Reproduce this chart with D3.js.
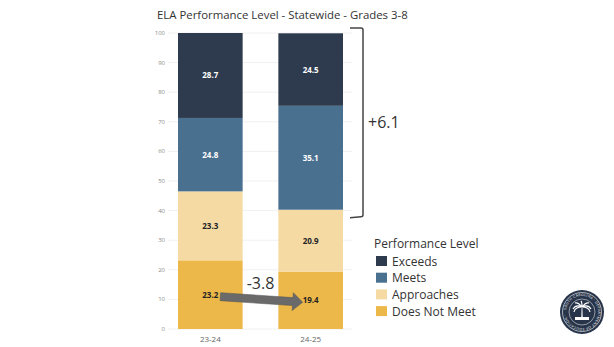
<!DOCTYPE html>
<html><head><meta charset="utf-8">
<script src="https://cdn.jsdelivr.net/npm/d3@7"></script>
<style>body{margin:0;background:#fff}svg{display:block}</style>
</head><body><svg id="c" width="614" height="347"></svg>
<script>
const years = ["23-24", "24-25"];
const levels = ["Does Not Meet", "Approaches", "Meets", "Exceeds"];
const doesNotMeet = [23.2, 19.4];
const approaches = [23.3, 20.9];
const meets = [24.8, 35.1];
const exceeds = [28.7, 24.5];
const yTicks = [0,10,20,30,40,50,60,70,80,90,100];
const colors = {"Does Not Meet":"#EDB84A","Approaches":"#F5DAA4","Meets":"#4A7090","Exceeds":"#2E3B4E"};
const labelColors = {"Does Not Meet":"#222","Approaches":"#222","Meets":"#fff","Exceeds":"#fff"};
const seriesVals = {"Does Not Meet":doesNotMeet,"Approaches":approaches,"Meets":meets,"Exceeds":exceeds};
const changeLow = "-3.8", changeHigh = "+6.1";
const title = "ELA Performance Level - Statewide - Grades 3-8";

const svg = d3.select("#c");
const font = "'Open Sans', 'Noto Sans', sans-serif";
const y = d3.scaleLinear().domain([0,100]).range([329,33]);
const x = d3.scaleBand().domain(years).range([178,343]).paddingInner(0.356).paddingOuter(0);

// grid
svg.append("g").selectAll("line").data(yTicks).join("line")
  .attr("x1",168).attr("x2",352).attr("y1",d=>y(d)).attr("y2",d=>y(d))
  .attr("stroke","#f0f0f0").attr("stroke-width",1);
// y axis labels
svg.append("g").selectAll("text").data(yTicks).join("text")
  .attr("x",165).attr("y",d=>y(d)+2).attr("text-anchor","end")
  .attr("font-family",font).attr("font-size",6).attr("fill","#8a8a8a").text(d=>d);

// stacked data
const rows = years.map((yr,i)=>{const r={year:yr}; levels.forEach(l=>r[l]=seriesVals[l][i]); return r;});
const stack = d3.stack().keys(levels)(rows);
const g = svg.append("g");
stack.forEach(s=>{
  g.selectAll(null).data(s).join("rect")
    .attr("x",d=>x(d.data.year)).attr("width",x.bandwidth())
    .attr("y",d=>y(d[1])).attr("height",d=>y(d[0])-y(d[1]))
    .attr("fill",colors[s.key]);
  g.selectAll(null).data(s).join("text")
    .attr("x",d=>x(d.data.year)+x.bandwidth()/2).attr("y",d=>y((d[0]+d[1])/2)+3)
    .attr("text-anchor","middle").attr("font-family",font).attr("font-weight","bold")
    .attr("font-size",8).attr("fill",labelColors[s.key]).text(d=>d.data[s.key].toFixed(1));
});
// x labels
svg.append("g").selectAll("text").data(years).join("text")
  .attr("x",d=>x(d)+x.bandwidth()/2).attr("y",342).attr("text-anchor","middle")
  .attr("font-family",font).attr("font-size",8).attr("fill","#666").text(d=>d);

// title
svg.append("text").attr("x",157).attr("y",19).attr("font-family",font).attr("font-size",11.4)
  .attr("fill","#333").text(title);

// bracket
const bx = x(years[1])+x.bandwidth()+20;
const top2 = y(100)-5, bot2 = y(doesNotMeet[1]+approaches[1])+7;
svg.append("path")
  .attr("d",`M${bx-13},${top2} L${bx-2},${top2} Q${bx},${top2} ${bx},${top2+2} L${bx},${bot2-2} Q${bx},${bot2} ${bx-2},${bot2} L${bx-13},${bot2+1}`)
  .attr("fill","none").attr("stroke","#444").attr("stroke-width",1.5);
svg.append("text").attr("x",bx+5).attr("y",(top2+bot2)/2+6).attr("font-family",font)
  .attr("font-size",16).attr("fill","#333").text(changeHigh);

// arrow
const ax1 = x(years[0])+x.bandwidth()/2+10, ay1 = y(doesNotMeet[0]/2)+2;
const ax2 = x(years[1])+x.bandwidth()/2-8, ay2 = y(doesNotMeet[1]/2)+2;
const ang = Math.atan2(ay2-ay1, ax2-ax1);
const L = Math.hypot(ax2-ax1, ay2-ay1);
const hw = 4, hh = 9, hl = 10;
svg.append("path")
  .attr("transform",`translate(${ax1},${ay1}) rotate(${ang*180/Math.PI})`)
  .attr("d",`M0,${-hw} L${L-hl},${-hw} L${L-hl},${-hh} L${L},0 L${L-hl},${hh} L${L-hl},${hw} L0,${hw} Z`)
  .attr("fill","#6a6a6a").attr("stroke","#555").attr("stroke-width",0.5);
svg.append("text").attr("x",(x(years[0])+x.bandwidth()+x(years[1]))/2).attr("y",289)
  .attr("text-anchor","middle").attr("font-family",font).attr("font-size",16).attr("fill","#333").text(changeLow);

// legend
const lg = svg.append("g");
lg.append("text").attr("x",374).attr("y",248).attr("font-family",font).attr("font-size",12)
  .attr("fill","#333").text("Performance Level");
const legendOrder = levels.slice().reverse();
legendOrder.forEach((l,i)=>{
  const cy = 261 + i*16.7;
  lg.append("rect").attr("x",376).attr("y",cy-5).attr("width",11).attr("height",10).attr("fill",colors[l]);
  lg.append("text").attr("x",392).attr("y",cy+4.5).attr("font-family",font).attr("font-size",12)
    .attr("fill","#333").text(l);
});

// seal
const seal = svg.append("g").attr("transform","translate(582,312)");
seal.append("circle").attr("r",22).attr("fill","#27344a");
seal.append("circle").attr("r",19.5).attr("fill","none").attr("stroke","#fff").attr("stroke-width",0.6);
seal.append("circle").attr("r",13).attr("fill","none").attr("stroke","#fff").attr("stroke-width",0.5);
seal.append("path").attr("d","M-0.8,8 L-0.4,-4 L0.4,-4 L0.8,8 Z").attr("fill","#fff");
seal.append("path").attr("d","M0,-5 Q-6,-8 -9,-3 M0,-5 Q6,-8 9,-3 M0,-5 Q-4,-10 -7,-9 M0,-5 Q4,-10 7,-9 M0,-5 Q0,-10 -1,-11 M0,-5 Q-7,-5 -8,0 M0,-5 Q7,-5 8,0")
  .attr("fill","none").attr("stroke","#fff").attr("stroke-width",1.2);
seal.append("rect").attr("x",-7).attr("y",5).attr("width",14).attr("height",3).attr("fill","#fff");
seal.append("defs").append("path").attr("id","arc").attr("d","M-16,0 A16,16 0 1,1 16,0 A16,16 0 1,1 -16,0");
seal.append("text").attr("font-size",3.5).attr("fill","#fff").attr("font-family",font).attr("letter-spacing",0.3)
  .append("textPath").attr("href","#arc").attr("startOffset","2%").text("SOUTH CAROLINA · DEPARTMENT OF EDUCATION ·");
</script></body></html>
